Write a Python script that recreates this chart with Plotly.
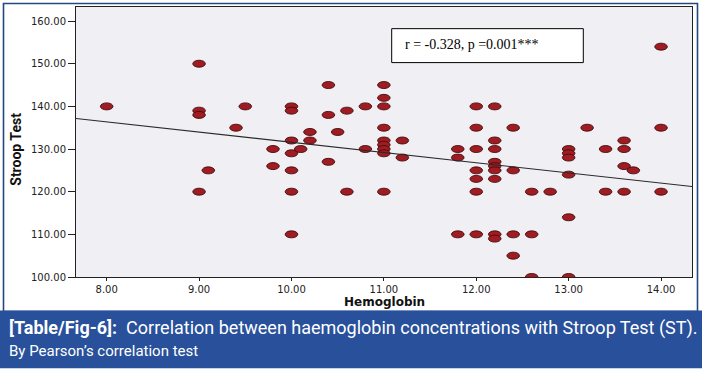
import numpy as np
import plotly.graph_objects as go

# ---- data ----
hemoglobin = [8.0,
              9.0, 9.0, 9.0, 9.0,
              9.1, 9.4, 9.5,
              9.8, 9.8,
              10.0, 10.0, 10.0, 10.0, 10.0, 10.0, 10.0,
              10.1, 10.2, 10.2,
              10.4, 10.4, 10.4,
              10.5, 10.6, 10.6, 10.8, 10.8,
              11.0, 11.0, 11.0, 11.0, 11.0, 11.0, 11.0, 11.0, 11.0,
              11.2, 11.2,
              11.8, 11.8, 11.8,
              12.0, 12.0, 12.0, 12.0, 12.0, 12.0, 12.0,
              12.2, 12.2, 12.2, 12.2, 12.2, 12.2, 12.2, 12.2, 12.2,
              12.4, 12.4, 12.4, 12.4,
              12.6, 12.6, 12.6,
              12.8,
              13.0, 13.0, 13.0, 13.0, 13.0, 13.0,
              13.2, 13.4, 13.4,
              13.6, 13.6, 13.6, 13.6,
              13.7,
              14.0, 14.0, 14.0]
stroop = [140,
          150, 139, 138, 120,
          125, 135, 140,
          130, 126,
          140, 139, 132, 129, 125, 120, 110,
          130, 134, 132,
          145, 138, 127,
          134, 139, 120, 140, 130,
          145, 142, 140, 135, 132, 131, 130, 129, 120,
          132, 128,
          130, 128, 110,
          140, 135, 130, 125, 123, 120, 110,
          140, 132, 130, 127, 126, 125, 123, 110, 109,
          135, 125, 110, 105,
          120, 110, 100,
          120,
          130, 129, 128, 124, 114, 100,
          135, 130, 120,
          132, 130, 126, 120,
          125,
          154, 135, 120]
y_ticks = [100, 110, 120, 130, 140, 150, 160]
x_ticks = [8, 9, 10, 11, 12, 13, 14]
stat_text = "r = -0.328, p =0.001***"
x_title = "Hemoglobin"
y_title = "Stroop Test"
caption_bold = "[Table/Fig-6]:"
caption_rest = "  Correlation between haemoglobin concentrations with Stroop Test (ST)."
caption_line2 = "By Pearson\u2019s correlation test"

# ---- layout geometry ----
W, H = 702, 369
ML, MR, MT, MB = 76, 10, 7, 91.5
x_range = [7.668, 14.335]
y_range = [100, 163.3]
plot_w = W - ML - MR
plot_h = H - MT - MB

def px_x(px):
    return (px - ML) / plot_w

def px_y(py):
    return (H - MB - py) / plot_h

# ellipse marker size (pixels) converted into data units
ell_w_px, ell_h_px = 12.6, 7.0
hw = ell_w_px / 2 / (plot_w / (x_range[1] - x_range[0]))
hh = ell_h_px / 2 / (plot_h / (y_range[1] - y_range[0]))

# regression fitted on the data
slope, intercept = np.polyfit(hemoglobin, stroop, 1)
line_x = np.array(x_range)
line_y = intercept + slope * line_x

fig = go.Figure()
fig.add_trace(go.Scatter(x=hemoglobin, y=stroop, mode="markers",
                         marker=dict(size=10, color="rgba(0,0,0,0)"),
                         hovertemplate="%{x:.2f}, %{y:.2f}<extra></extra>",
                         showlegend=False))
fig.add_trace(go.Scatter(x=line_x, y=line_y, mode="lines",
                         line=dict(color="#2a2a2a", width=1.1),
                         hoverinfo="skip", showlegend=False))

shapes = []
for xv, yv in zip(hemoglobin, stroop):
    shapes.append(dict(type="circle", xref="x", yref="y", layer="below",
                       x0=xv - hw, x1=xv + hw, y0=yv - hh, y1=yv + hh,
                       fillcolor="#a01c22", line=dict(color="#3f0c0c", width=0.9)))

# outer border and caption band
shapes.append(dict(type="rect", xref="paper", yref="paper", layer="above",
                   x0=px_x(3.5), x1=px_x(697.5), y0=px_y(312), y1=px_y(3.5),
                   fillcolor="rgba(0,0,0,0)", line=dict(color="#24477f", width=1.6)))
shapes.append(dict(type="rect", xref="paper", yref="paper", layer="above",
                   x0=px_x(0), x1=px_x(W), y0=px_y(H), y1=px_y(311),
                   fillcolor="#28509b", line=dict(width=0)))
# statistic box
shapes.append(dict(type="rect", xref="paper", yref="paper", layer="above",
                   x0=px_x(391.7), x1=px_x(583.3), y0=px_y(62.7), y1=px_y(28.7),
                   fillcolor="white", line=dict(color="black", width=1)))

annotations = [
    dict(text=stat_text, xref="paper", yref="paper", x=px_x(402.5), y=px_y(45),
         xanchor="left", yanchor="middle", showarrow=False,
         font=dict(family="Liberation Serif, Times New Roman, serif", size=14, color="black")),
    dict(text=x_title, xref="paper", yref="paper", x=px_x(384), y=px_y(302.5),
         xanchor="center", yanchor="middle", showarrow=False,
         font=dict(family="DejaVu Sans, sans-serif", size=12, color="#111111", weight="bold")),
    dict(text=y_title, xref="paper", yref="paper", x=px_x(16), y=px_y(150),
         xanchor="center", yanchor="middle", showarrow=False, textangle=-90,
         font=dict(family="Liberation Sans Narrow, Arial Narrow, Roboto, sans-serif", size=14,
                   color="#111111", weight="bold")),
    dict(text="<b>" + caption_bold + "</b>" + caption_rest, xref="paper", yref="paper",
         x=px_x(7), y=px_y(329), xanchor="left", yanchor="middle", showarrow=False,
         font=dict(family="Liberation Sans Narrow, Arial Narrow, Roboto, sans-serif", size=18, color="white")),
    dict(text=caption_line2, xref="paper", yref="paper",
         x=px_x(7), y=px_y(352), xanchor="left", yanchor="middle", showarrow=False,
         font=dict(family="Liberation Sans Narrow, Arial Narrow, Roboto, sans-serif", size=15, color="white")),
]

fig.update_layout(
    width=W, height=H,
    margin=dict(l=ML, r=MR, t=MT, b=MB, pad=0),
    paper_bgcolor="white", plot_bgcolor="#f0eff4",
    shapes=shapes, annotations=annotations,
    showlegend=False,
    xaxis=dict(range=x_range, tickmode="array", tickvals=x_ticks,
               ticktext=[f"{v:.2f}" for v in x_ticks],
               showgrid=False, zeroline=False, showline=True, linecolor="#222222",
               linewidth=1, mirror=True, ticks="outside", ticklen=3, tickcolor="#222222",
               tickfont=dict(family="DejaVu Sans, sans-serif", size=10, color="#222222")),
    yaxis=dict(range=y_range, tickmode="array", tickvals=y_ticks,
               ticktext=[f"{v:.2f}" for v in y_ticks],
               showgrid=False, zeroline=False, showline=True, linecolor="#222222",
               linewidth=1, mirror=True, ticks="outside", ticklen=7, tickcolor="#222222",
               tickfont=dict(family="DejaVu Sans, sans-serif", size=10, color="#222222")),
)

fig.write_html("out.html", config={"displayModeBar": False},
               post_script="document.body.style.margin='0';document.body.style.overflow='hidden';")
